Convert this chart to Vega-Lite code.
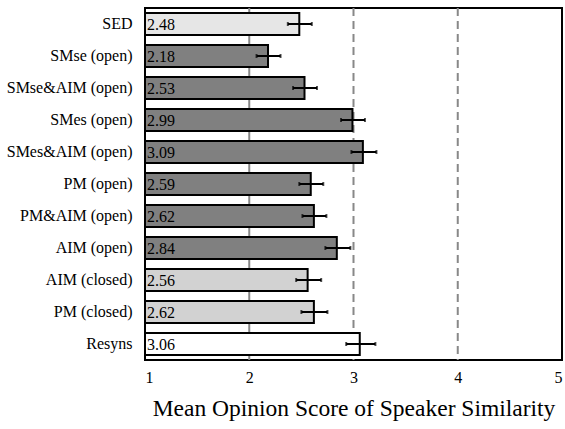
{
  "$schema": "https://vega.github.io/schema/vega-lite/v6.json",
  "autosize": "none",
  "width": 417,
  "height": 352,
  "padding": {"left": 145, "top": 8, "right": 3, "bottom": 69},
  "config": {
    "font": "Liberation Serif",
    "view": {"stroke": "black", "strokeWidth": 2}
  },
  "data": {
    "values": [
      {"model": "SED", "score": 2.48, "lo": 2.37, "hi": 2.60, "group": "SED"},
      {"model": "SMse (open)", "score": 2.18, "lo": 2.07, "hi": 2.30, "group": "open"},
      {"model": "SMse&AIM (open)", "score": 2.53, "lo": 2.42, "hi": 2.65, "group": "open"},
      {"model": "SMes (open)", "score": 2.99, "lo": 2.88, "hi": 3.11, "group": "open"},
      {"model": "SMes&AIM (open)", "score": 3.09, "lo": 2.98, "hi": 3.22, "group": "open"},
      {"model": "PM (open)", "score": 2.59, "lo": 2.48, "hi": 2.71, "group": "open"},
      {"model": "PM&AIM (open)", "score": 2.62, "lo": 2.51, "hi": 2.74, "group": "open"},
      {"model": "AIM (open)", "score": 2.84, "lo": 2.73, "hi": 2.97, "group": "open"},
      {"model": "AIM (closed)", "score": 2.56, "lo": 2.45, "hi": 2.69, "group": "closed"},
      {"model": "PM (closed)", "score": 2.62, "lo": 2.50, "hi": 2.75, "group": "closed"},
      {"model": "Resyns", "score": 3.06, "lo": 2.93, "hi": 3.21, "group": "Resyns"}
    ]
  },
  "layer": [
    {
      "data": {"values": [{"g": 2}]},
      "mark": {"type": "rule", "color": "#888888", "strokeWidth": 2},
      "encoding": {"x": {"field": "g", "type": "quantitative"}}
    },
    {
      "data": {"values": [{"g": 3}, {"g": 4}]},
      "mark": {"type": "rule", "color": "#888888", "strokeWidth": 2, "strokeDash": [8, 5]},
      "encoding": {"x": {"field": "g", "type": "quantitative"}}
    },
    {
      "mark": {"type": "bar", "stroke": "black", "strokeWidth": 2, "opacity": 1, "fillOpacity": 1},
      "encoding": {
        "y": {
          "field": "model",
          "type": "nominal",
          "sort": null,
          "scale": {"paddingInner": 0.31, "paddingOuter": 0.155},
          "axis": {
            "title": null,
            "ticks": false,
            "domain": false,
            "labelFontSize": 16,
            "labelColor": "black",
            "labelPadding": 13,
            "labelFont": "Liberation Serif"
          }
        },
        "x": {
          "field": "score",
          "type": "quantitative",
          "scale": {"domain": [1, 5], "nice": false, "zero": false},
          "axis": {
            "values": [1, 2, 3, 4, 5],
            "format": "d",
            "title": "Mean Opinion Score of Speaker Similarity",
            "titleFontSize": 23.5,
            "titleFontWeight": "normal",
            "titleColor": "black",
            "titlePadding": 11,
            "titleFont": "Liberation Serif",
            "labelFontSize": 16,
            "labelColor": "black",
            "labelPadding": 9,
            "labelFont": "Liberation Serif",
            "ticks": false,
            "domain": false,
            "grid": false
          }
        },
        "x2": {"datum": 1},
        "fill": {
          "field": "group",
          "type": "nominal",
          "scale": {
            "domain": ["SED", "open", "closed", "Resyns"],
            "range": ["#e6e6e6", "#808080", "#d2d2d2", "#ffffff"]
          },
          "legend": null
        }
      }
    },
    {
      "mark": {"type": "rule", "color": "black", "strokeWidth": 2},
      "encoding": {
        "y": {"field": "model", "type": "nominal", "sort": null},
        "x": {"field": "lo", "type": "quantitative"},
        "x2": {"field": "hi"}
      }
    },
    {
      "mark": {"type": "tick", "color": "black", "thickness": 2, "size": 4},
      "encoding": {
        "y": {"field": "model", "type": "nominal", "sort": null},
        "x": {"field": "lo", "type": "quantitative"}
      }
    },
    {
      "mark": {"type": "tick", "color": "black", "thickness": 2, "size": 4},
      "encoding": {
        "y": {"field": "model", "type": "nominal", "sort": null},
        "x": {"field": "hi", "type": "quantitative"}
      }
    },
    {
      "mark": {"type": "text", "align": "left", "baseline": "middle", "dx": 2, "dy": 1, "fontSize": 16, "color": "black", "font": "Liberation Serif"},
      "encoding": {
        "y": {"field": "model", "type": "nominal", "sort": null},
        "x": {"datum": 1},
        "text": {"field": "score", "type": "quantitative", "format": ".2f"}
      }
    }
  ]
}
